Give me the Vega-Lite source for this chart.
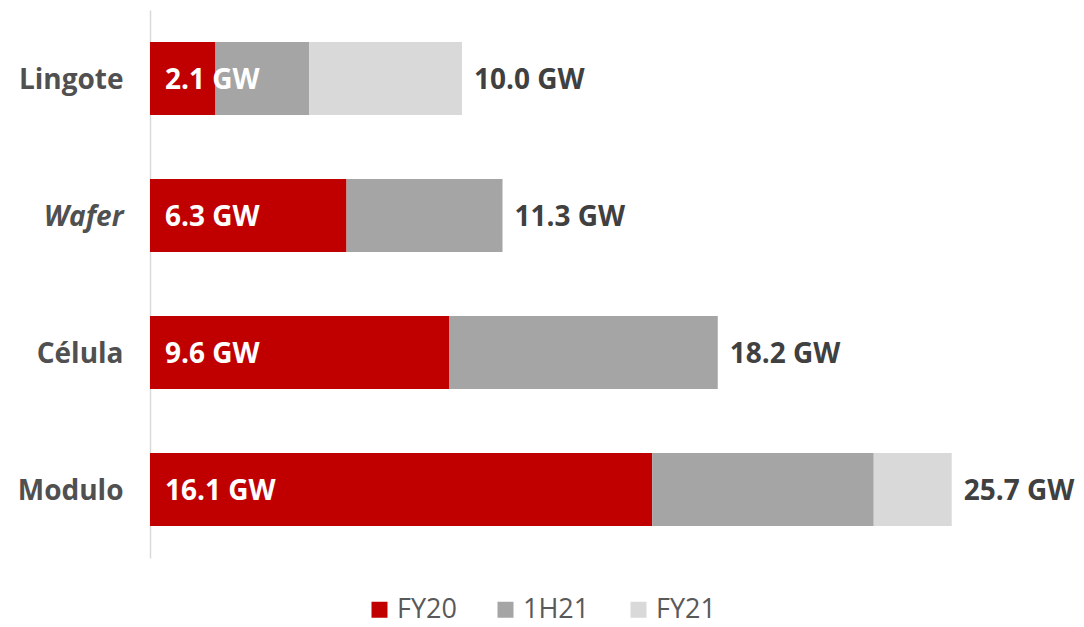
{
  "$schema": "https://vega.github.io/schema/vega-lite/v6.json",
  "width": 934,
  "height": 548,
  "autosize": "none",
  "padding": {"left": 150, "top": 10, "right": 0, "bottom": 69},
  "background": "white",
  "config": {
    "view": {"stroke": null},
    "font": "Open Sans"
  },
  "datasets": {
    "segs": [
      {"cat": "Lingote", "series": "FY20", "order": 1, "value": 2.1},
      {"cat": "Lingote", "series": "1H21", "order": 2, "value": 3.0},
      {"cat": "Lingote", "series": "FY21", "order": 3, "value": 4.9},
      {"cat": "Wafer", "series": "FY20", "order": 1, "value": 6.3},
      {"cat": "Wafer", "series": "1H21", "order": 2, "value": 5.0},
      {"cat": "Wafer", "series": "FY21", "order": 3, "value": 0},
      {"cat": "Célula", "series": "FY20", "order": 1, "value": 9.6},
      {"cat": "Célula", "series": "1H21", "order": 2, "value": 8.6},
      {"cat": "Célula", "series": "FY21", "order": 3, "value": 0},
      {"cat": "Modulo", "series": "FY20", "order": 1, "value": 16.1},
      {"cat": "Modulo", "series": "1H21", "order": 2, "value": 7.1},
      {"cat": "Modulo", "series": "FY21", "order": 3, "value": 2.5}
    ],
    "totals": [
      {"cat": "Lingote", "fy20": 2.1, "fy20label": "2.1 GW", "total": 10.0, "totallabel": "10.0 GW"},
      {"cat": "Wafer", "fy20": 6.3, "fy20label": "6.3 GW", "total": 11.3, "totallabel": "11.3 GW"},
      {"cat": "Célula", "fy20": 9.6, "fy20label": "9.6 GW", "total": 18.2, "totallabel": "18.2 GW"},
      {"cat": "Modulo", "fy20": 16.1, "fy20label": "16.1 GW", "total": 25.7, "totallabel": "25.7 GW"}
    ]
  },
  "layer": [
    {
      "data": {"name": "segs"},
      "mark": {"type": "bar"},
      "encoding": {
        "y": {
          "field": "cat", "type": "nominal",
          "sort": ["Lingote", "Wafer", "Célula", "Modulo"],
          "scale": {"paddingInner": 0.467, "paddingOuter": 0.2335},
          "axis": {
            "title": null, "ticks": false, "grid": false,
            "domainColor": "#d9d9d9", "domainWidth": 1.5,
            "labelFont": "Open Sans", "labelFontSize": 28, "labelFontWeight": "bold",
            "labelColor": "#505050", "labelPadding": 27, "labelOffset": 2,
            "labelFontStyle": {"condition": {"test": "datum.value === 'Wafer'", "value": "italic"}, "value": "normal"}
          }
        },
        "x": {
          "field": "value", "type": "quantitative", "stack": "zero",
          "scale": {"domain": [0, 29.94], "nice": false},
          "axis": null
        },
        "order": {"field": "order", "type": "quantitative"},
        "color": {
          "field": "series", "type": "nominal",
          "scale": {"domain": ["FY20", "1H21", "FY21"], "range": ["#C00000", "#A5A5A5", "#D9D9D9"]},
          "legend": {
            "title": null, "orient": "none", "direction": "horizontal",
            "legendX": 216, "legendY": 586,
            "symbolType": "square", "symbolSize": 256, "symbolStrokeWidth": 0,
            "labelFont": "Open Sans", "labelFontSize": 27, "labelColor": "#595959",
            "labelOffset": 4, "columnPadding": 35
          }
        }
      }
    },
    {
      "data": {"name": "totals"},
      "mark": {"type": "text", "align": "left", "baseline": "middle", "dx": 15, "dy": 2, "fontSize": 28, "fontWeight": "bold", "color": "white", "font": "Open Sans"},
      "encoding": {
        "y": {"field": "cat", "type": "nominal", "sort": ["Lingote", "Wafer", "Célula", "Modulo"]},
        "x": {"datum": 0},
        "text": {"field": "fy20label"}
      }
    },
    {
      "data": {"name": "totals"},
      "mark": {"type": "text", "align": "left", "baseline": "middle", "dx": 12, "dy": 2, "fontSize": 28, "fontWeight": "bold", "color": "#404040", "font": "Open Sans"},
      "encoding": {
        "y": {"field": "cat", "type": "nominal", "sort": ["Lingote", "Wafer", "Célula", "Modulo"]},
        "x": {"field": "total", "type": "quantitative"},
        "text": {"field": "totallabel"}
      }
    }
  ]
}
